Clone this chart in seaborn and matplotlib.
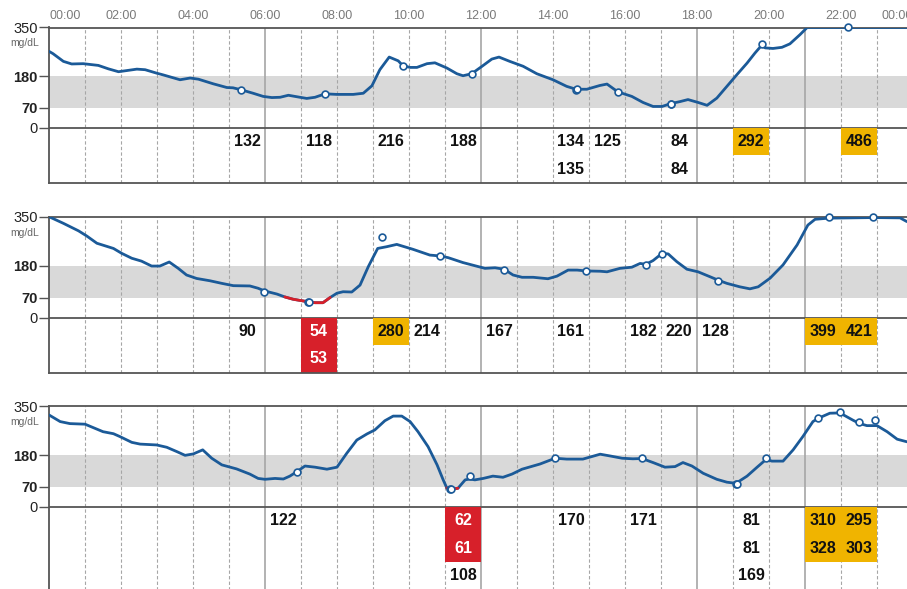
import numpy as np
import matplotlib
matplotlib.use("Agg")
import matplotlib.pyplot as plt
import seaborn as sns

sns.set_theme(style="white")
plt.rcParams["font.family"] = ["Liberation Sans", "DejaVu Sans"]

# ---------------------------------------------------------------------------
# data: CGM trace (hours, mg/dL) and finger-stick readings for three days
# ---------------------------------------------------------------------------
day1_t = [0, 0.11, 0.4, 0.63, 0.95, 1.37, 1.65, 1.93, 2.16, 2.44, 2.67, 2.99, 3.17, 3.64,
          3.92, 4.15, 4.56, 4.94, 5.11, 5.34, 5.67, 5.95, 6.19, 6.42, 6.65, 6.97, 7.16,
          7.39, 7.67, 8.0, 8.45, 8.73, 8.97, 9.19, 9.45, 9.7, 9.83, 10.03, 10.22, 10.5,
          10.72, 11.05, 11.33, 11.5, 11.74, 12.03, 12.3, 12.5, 12.8, 13.17, 13.55, 14.0,
          14.38, 14.64, 14.94, 15.3, 15.5, 15.8, 16.19, 16.5, 16.78, 17.03, 17.27, 17.53,
          17.75, 18.03, 18.28, 18.55, 18.83, 19.11, 19.39, 19.61, 19.81, 19.89, 20.11,
          20.36, 20.58, 20.86, 21.06, 22.2, 24.0]
day1_v = [267, 259, 232, 223, 224, 218, 206, 196, 200, 205, 203, 191, 185, 168,
          174, 170, 154, 141, 140, 133, 121, 110, 106, 107, 114, 107, 103,
          107, 119, 117, 117, 121, 147, 203, 247, 234, 217, 211, 211, 224,
          227, 209, 189, 182, 189, 215, 240, 247, 232, 215, 189, 168,
          145, 135, 135, 148, 153, 126, 110, 89, 75, 75, 85, 92,
          99, 89, 79, 104, 145, 186, 226, 261, 290, 279, 277,
          281, 293, 325, 350, 350, 350]
day1_read_t = [5.34, 7.67, 9.83, 11.74, 14.64, 14.66, 15.8, 17.27, 17.29, 19.81, 22.2]
day1_read_v = [132, 118, 216, 188, 134, 135, 125, 84, 84, 292, 486]

day2_t = [0, 0.4, 0.82, 1.05, 1.33, 1.79, 2.02, 2.3, 2.57, 2.85, 3.08, 3.34, 3.59, 3.82,
          4.1, 4.47, 4.8, 5.12, 5.58, 5.81, 5.98, 6.33, 6.55, 6.78, 6.97, 7.2, 7.39,
          7.61, 7.81, 8.0, 8.17, 8.41, 8.64, 8.87, 9.13, 9.38, 9.66, 10.11, 10.58, 10.86,
          11.09, 11.5, 12.11, 12.39, 12.64, 12.89, 13.14, 13.45, 13.86, 14.11, 14.42,
          14.67, 14.92, 15.31, 15.5, 15.86, 16.19, 16.42, 16.58, 16.78, 17.03, 17.2,
          17.44, 17.72, 18.03, 18.36, 18.59, 18.83, 19.19, 19.47, 19.7, 20.03, 20.39,
          20.78, 21.08, 21.28, 21.66, 22.9, 23.64, 23.83]
day2_v = [350, 327, 301, 283, 258, 240, 223, 206, 196, 179, 179, 193, 171, 148,
          136, 128, 119, 111, 110, 102, 93, 82, 72, 64, 60, 55, 52,
          52, 70, 85, 90, 89, 113, 177, 240, 246, 254, 237, 217, 214,
          208, 191, 171, 173, 168, 148, 140, 140, 135, 144, 165,
          165, 162, 161, 159, 171, 175, 188, 185, 198, 223, 221,
          194, 168, 159, 142, 130, 119, 107, 100, 107, 137, 183,
          252, 321, 341, 345, 347, 346, 333]
day2_read_t = [5.98, 7.2, 7.22, 9.25, 10.86, 12.64, 14.92, 16.58, 17.03, 18.59, 21.66, 22.9]
day2_read_v = [90, 54, 53, 280, 214, 167, 161, 182, 220, 128, 399, 421]

day3_t = [0, 0.31, 0.58, 1.0, 1.5, 1.79, 1.97, 2.3, 2.53, 2.99, 3.27, 3.55, 3.78, 4.01,
          4.27, 4.52, 4.8, 5.21, 5.58, 5.81, 6.0, 6.28, 6.51, 6.69, 6.88, 7.11, 7.39,
          7.72, 8.0, 8.27, 8.55, 8.83, 9.05, 9.33, 9.56, 9.8, 10.03, 10.25, 10.53, 10.78,
          10.95, 11.05, 11.2, 11.36, 11.56, 11.69, 11.83, 12.06, 12.33, 12.61, 12.86,
          13.14, 13.64, 14.06, 14.38, 14.83, 15.31, 15.58, 15.92, 16.22, 16.47, 16.78,
          17.11, 17.39, 17.61, 17.86, 18.17, 18.55, 18.83, 19.08, 19.39, 19.67, 19.92,
          20.08, 20.39, 20.67, 20.94, 21.22, 21.36, 21.69, 21.97, 22.33, 22.5, 22.72,
          23.0, 23.28, 23.56, 23.83]
day3_v = [319, 296, 289, 287, 261, 254, 244, 224, 218, 215, 207, 192, 179, 184,
          198, 169, 146, 132, 114, 99, 96, 99, 97, 107, 122, 142, 138,
          131, 138, 186, 232, 253, 267, 299, 315, 315, 296, 261, 209, 146,
          94, 66, 62, 65, 94, 97, 94, 99, 107, 103, 114,
          131, 149, 169, 166, 166, 183, 177, 169, 167, 168, 154,
          138, 140, 154, 142, 117, 96, 86, 82, 107, 138, 165,
          159, 159, 198, 244, 296, 307, 325, 326, 301, 290, 282,
          282, 261, 235, 226]
day3_read_t = [6.88, 11.14, 11.16, 11.69, 14.06, 16.47, 19.08, 19.1, 19.92, 21.36, 21.97, 22.5, 22.95]
day3_read_v = [122, 62, 61, 108, 170, 171, 81, 81, 169, 310, 328, 295, 303]

hour_labels = ["00:00", "02:00", "04:00", "06:00", "08:00", "10:00", "12:00",
               "14:00", "16:00", "18:00", "20:00", "22:00", "00:00"]
solid_hours = [6, 12, 18, 21]

# ---------------------------------------------------------------------------
W, H = 907, 589
BLUE = "#1b5a98"
RED = "#d7202a"
GOLD = "#f0b400"
LINE = "#555555"
GRID = "#a6a6a6"

fig = plt.figure(figsize=(W / 100, H / 100), dpi=100)

# (pixel top of 350 line, pixel 0 line, pixel bottom of table)
rows = [
    (27.5, 128.0, 183.0, day1_t, day1_v, day1_read_t, day1_read_v),
    (216.7, 317.7, 373.0, day2_t, day2_v, day2_read_t, day2_read_v),
    (406.0, 507.0, 620.0, day3_t, day3_v, day3_read_t, day3_read_v),
]

for i, (ytop, y0, ybot, tt, vv, rt, rv) in enumerate(rows):
    ax = fig.add_axes([49 / W, 1 - ybot / H, 864 / W, (ybot - ytop) / H])
    k = 350 / (y0 - ytop)          # mg/dL per pixel
    rh = 27.5 * k                  # table row height in data units
    ax.set_xlim(0, 24)
    ax.set_ylim(-(ybot - y0) * k, 350)

    # target range band
    ax.axhspan(70, 180, color="#d9d9d9", lw=0, zorder=0)

    # hourly grid
    for h in range(1, 24):
        if h in solid_hours:
            ax.axvline(h, color=GRID, lw=1.2, zorder=1)
        else:
            ax.axvline(h, color=GRID, lw=0.8, ls=(0, (3, 2)), zorder=1)
    ax.axhline(0, color=LINE, lw=1.3, zorder=2)

    # readings table (one column per hour)
    rt = np.array(rt)
    rv = np.array(rv)
    cols = np.floor(rt).astype(int)
    for c in np.unique(cols):
        vals = rv[cols == c]
        for r, val in enumerate(vals):
            yc = -(r + 0.5) * rh
            txt_color = "#111111"
            if val < 70:
                ax.bar(c + 0.5, rh, width=1, bottom=-(r + 1) * rh, color=RED, lw=0, zorder=2)
                txt_color = "white"
            elif val > 250:
                ax.bar(c + 0.5, rh, width=1, bottom=-(r + 1) * rh, color=GOLD, lw=0, zorder=2)
            ax.text(c + 0.5, yc, str(val), ha="center", va="center",
                    fontsize=11.5, fontweight="bold", color=txt_color, zorder=3)

    # CGM trace
    tt = np.array(tt)
    vv = np.array(vv, dtype=float)
    sns.lineplot(x=tt, y=vv, ax=ax, color=BLUE, lw=2, zorder=4)
    low = vv < 73
    if low.any():
        sns.lineplot(x=tt[low], y=vv[low], ax=ax, color=RED, lw=2, zorder=5)

    # finger-stick readings (clipped to the chart top)
    sns.scatterplot(x=rt, y=np.minimum(rv, 350), ax=ax, s=24, color="white",
                    edgecolor=BLUE, linewidth=1.2, zorder=6, clip_on=False)

    # axes styling
    for side in ["left", "top", "bottom"]:
        ax.spines[side].set_color(LINE)
        ax.spines[side].set_linewidth(1.3)
    ax.spines["right"].set_visible(False)
    ax.set_xticks([])
    ax.set_yticks([0, 70, 180, 350])
    ax.set_yticklabels(["0", "70", "180", "350"])
    for lab in ax.get_yticklabels():
        if lab.get_text() in ("70", "180"):
            lab.set_fontweight("bold")
    ax.tick_params(axis="y", left=True, length=7, width=1, color=LINE, pad=1,
                   labelsize=10.5, labelcolor="#222222")
    ax.annotate("mg/dL", xy=(0, 350), xycoords="data", xytext=(-7, -11.5),
                textcoords="offset points", ha="right", va="center",
                fontsize=7.5, color="#666666")

    if i == 0:
        for j, lbl in enumerate(hour_labels):
            h = j * 2
            ha = "left" if h == 0 else ("right" if h == 24 else "center")
            ax.annotate(lbl, xy=(h, 1), xycoords=("data", "axes fraction"),
                        xytext=(0, 8.3), textcoords="offset points", ha=ha,
                        va="center", fontsize=9, color="#7a7a7a",
                        annotation_clip=False)

plt.savefig("out.png", dpi=100)
